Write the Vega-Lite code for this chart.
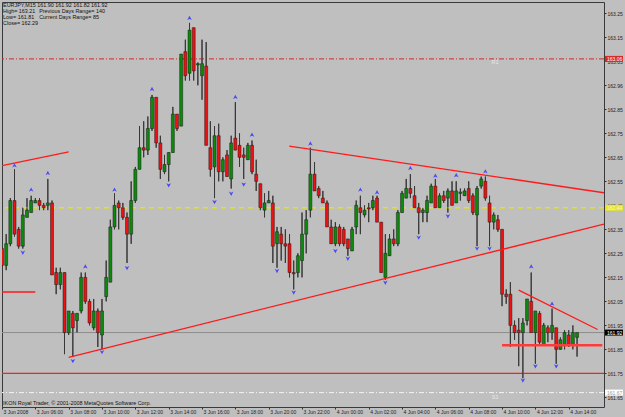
{
"$schema":"https://vega.github.io/schema/vega-lite/v6.json",
"width":602,"height":405,
"autosize":{"type":"none"},
"padding":{"left":2,"top":2,"right":21,"bottom":10},
"background":"#bfbfbf",
"config":{"view":{"stroke":"#3a3a3a","strokeWidth":1},"font":"Liberation Sans","axis":{"title":null,"grid":false,"domain":false}},
"resolve":{"axis":{"x":"independent","y":"independent"}},
"datasets":{
"bars":[
{"t":"2008-06-03T04:00Z","o":162.27,"h":162.28,"l":162.19,"c":162.20},
{"t":"2008-06-03T04:15Z","o":162.20,"h":162.33,"l":162.18,"c":162.29},
{"t":"2008-06-03T04:30Z","o":162.29,"h":162.48,"l":162.28,"c":162.47},
{"t":"2008-06-03T04:45Z","o":162.47,"h":162.60,"l":162.32,"c":162.33},
{"t":"2008-06-03T05:00Z","o":162.35,"h":162.36,"l":162.27,"c":162.28},
{"t":"2008-06-03T05:15Z","o":162.28,"h":162.44,"l":162.27,"c":162.41},
{"t":"2008-06-03T05:30Z","o":162.40,"h":162.48,"l":162.40,"c":162.43},
{"t":"2008-06-03T05:45Z","o":162.42,"h":162.49,"l":162.42,"c":162.47},
{"t":"2008-06-03T06:00Z","o":162.46,"h":162.48,"l":162.46,"c":162.47},
{"t":"2008-06-03T06:15Z","o":162.47,"h":162.48,"l":162.43,"c":162.45},
{"t":"2008-06-03T06:30Z","o":162.45,"h":162.46,"l":162.43,"c":162.44},
{"t":"2008-06-03T06:45Z","o":162.45,"h":162.56,"l":162.43,"c":162.46},
{"t":"2008-06-03T07:00Z","o":162.46,"h":162.47,"l":162.16,"c":162.16},
{"t":"2008-06-03T07:15Z","o":162.17,"h":162.19,"l":162.08,"c":162.12},
{"t":"2008-06-03T07:30Z","o":162.12,"h":162.19,"l":162.10,"c":162.17},
{"t":"2008-06-03T07:45Z","o":162.17,"h":162.17,"l":161.83,"c":161.92},
{"t":"2008-06-03T08:00Z","o":161.92,"h":162.01,"l":161.91,"c":162.01},
{"t":"2008-06-03T08:15Z","o":162.00,"h":162.01,"l":161.82,"c":161.94},
{"t":"2008-06-03T08:30Z","o":161.97,"h":162.00,"l":161.92,"c":162.00},
{"t":"2008-06-03T08:45Z","o":162.01,"h":162.17,"l":162.00,"c":162.15},
{"t":"2008-06-03T09:00Z","o":162.15,"h":162.17,"l":162.04,"c":162.05},
{"t":"2008-06-03T09:15Z","o":162.05,"h":162.06,"l":161.95,"c":161.96},
{"t":"2008-06-03T09:30Z","o":161.94,"h":162.06,"l":161.93,"c":162.01},
{"t":"2008-06-03T09:45Z","o":162.01,"h":162.02,"l":161.86,"c":161.92},
{"t":"2008-06-03T10:00Z","o":161.91,"h":162.06,"l":161.85,"c":162.01},
{"t":"2008-06-03T10:15Z","o":162.07,"h":162.22,"l":162.05,"c":162.15},
{"t":"2008-06-03T10:30Z","o":162.13,"h":162.39,"l":162.13,"c":162.36},
{"t":"2008-06-03T10:45Z","o":162.36,"h":162.50,"l":162.35,"c":162.45},
{"t":"2008-06-03T11:00Z","o":162.46,"h":162.47,"l":162.35,"c":162.44},
{"t":"2008-06-03T11:15Z","o":162.44,"h":162.46,"l":162.39,"c":162.40},
{"t":"2008-06-03T11:30Z","o":162.40,"h":162.42,"l":162.21,"c":162.33},
{"t":"2008-06-03T11:45Z","o":162.33,"h":162.55,"l":162.29,"c":162.47},
{"t":"2008-06-03T12:00Z","o":162.47,"h":162.61,"l":162.46,"c":162.60},
{"t":"2008-06-03T12:15Z","o":162.60,"h":162.78,"l":162.60,"c":162.69},
{"t":"2008-06-03T12:30Z","o":162.69,"h":162.80,"l":162.65,"c":162.68},
{"t":"2008-06-03T12:45Z","o":162.68,"h":162.82,"l":162.66,"c":162.77},
{"t":"2008-06-03T13:00Z","o":162.77,"h":162.91,"l":162.76,"c":162.90},
{"t":"2008-06-03T13:15Z","o":162.90,"h":162.90,"l":162.69,"c":162.71},
{"t":"2008-06-03T13:30Z","o":162.71,"h":162.74,"l":162.56,"c":162.60},
{"t":"2008-06-03T13:45Z","o":162.59,"h":162.66,"l":162.58,"c":162.62},
{"t":"2008-06-03T14:00Z","o":162.62,"h":162.67,"l":162.55,"c":162.67},
{"t":"2008-06-03T14:15Z","o":162.67,"h":162.86,"l":162.67,"c":162.83},
{"t":"2008-06-03T14:30Z","o":162.83,"h":162.83,"l":162.76,"c":162.77},
{"t":"2008-06-03T14:45Z","o":162.78,"h":163.08,"l":162.78,"c":163.08},
{"t":"2008-06-03T15:00Z","o":163.09,"h":163.14,"l":162.97,"c":162.99},
{"t":"2008-06-03T15:15Z","o":163.00,"h":163.21,"l":162.97,"c":163.18},
{"t":"2008-06-03T15:30Z","o":163.19,"h":163.19,"l":162.97,"c":163.01},
{"t":"2008-06-03T15:45Z","o":163.035,"h":163.045,"l":162.95,"c":163.04},
{"t":"2008-06-03T16:00Z","o":162.99,"h":163.14,"l":162.89,"c":163.04},
{"t":"2008-06-03T16:15Z","o":163.03,"h":163.13,"l":162.70,"c":162.70},
{"t":"2008-06-03T16:30Z","o":162.69,"h":162.80,"l":162.57,"c":162.60},
{"t":"2008-06-03T16:45Z","o":162.61,"h":162.78,"l":162.48,"c":162.74},
{"t":"2008-06-03T17:00Z","o":162.74,"h":162.79,"l":162.55,"c":162.59},
{"t":"2008-06-03T17:15Z","o":162.59,"h":162.65,"l":162.55,"c":162.64},
{"t":"2008-06-03T17:30Z","o":162.66,"h":162.68,"l":162.57,"c":162.57},
{"t":"2008-06-03T17:45Z","o":162.56,"h":162.74,"l":162.52,"c":162.71},
{"t":"2008-06-03T18:00Z","o":162.73,"h":162.88,"l":162.68,"c":162.68},
{"t":"2008-06-03T18:15Z","o":162.70,"h":162.75,"l":162.61,"c":162.65},
{"t":"2008-06-03T18:30Z","o":162.66,"h":162.69,"l":162.56,"c":162.65},
{"t":"2008-06-03T18:45Z","o":162.64,"h":162.71,"l":162.64,"c":162.70},
{"t":"2008-06-03T19:00Z","o":162.70,"h":162.72,"l":162.58,"c":162.59},
{"t":"2008-06-03T19:15Z","o":162.58,"h":162.64,"l":162.51,"c":162.55},
{"t":"2008-06-03T19:30Z","o":162.54,"h":162.54,"l":162.43,"c":162.44},
{"t":"2008-06-03T19:45Z","o":162.43,"h":162.50,"l":162.40,"c":162.46},
{"t":"2008-06-03T20:00Z","o":162.46,"h":162.51,"l":162.46,"c":162.47},
{"t":"2008-06-03T20:15Z","o":162.46,"h":162.49,"l":162.21,"c":162.28},
{"t":"2008-06-03T20:30Z","o":162.29,"h":162.36,"l":162.19,"c":162.34},
{"t":"2008-06-03T20:45Z","o":162.33,"h":162.36,"l":162.22,"c":162.29},
{"t":"2008-06-03T21:00Z","o":162.29,"h":162.35,"l":162.21,"c":162.28},
{"t":"2008-06-03T21:15Z","o":162.29,"h":162.33,"l":162.15,"c":162.17},
{"t":"2008-06-03T21:30Z","o":162.17,"h":162.22,"l":162.10,"c":162.165},
{"t":"2008-06-03T21:45Z","o":162.17,"h":162.25,"l":162.15,"c":162.24},
{"t":"2008-06-03T22:00Z","o":162.22,"h":162.42,"l":162.15,"c":162.33},
{"t":"2008-06-03T22:15Z","o":162.33,"h":162.43,"l":162.25,"c":162.39},
{"t":"2008-06-03T22:30Z","o":162.43,"h":162.69,"l":162.40,"c":162.58},
{"t":"2008-06-03T22:45Z","o":162.58,"h":162.63,"l":162.51,"c":162.51},
{"t":"2008-06-03T23:00Z","o":162.52,"h":162.53,"l":162.48,"c":162.49},
{"t":"2008-06-03T23:15Z","o":162.48,"h":162.51,"l":162.46,"c":162.46},
{"t":"2008-06-03T23:30Z","o":162.46,"h":162.47,"l":162.36,"c":162.36},
{"t":"2008-06-03T23:45Z","o":162.36,"h":162.39,"l":162.29,"c":162.29},
{"t":"2008-06-04T00:00Z","o":162.29,"h":162.38,"l":162.28,"c":162.36},
{"t":"2008-06-04T00:15Z","o":162.36,"h":162.37,"l":162.28,"c":162.29},
{"t":"2008-06-04T00:30Z","o":162.35,"h":162.36,"l":162.28,"c":162.29},
{"t":"2008-06-04T00:45Z","o":162.31,"h":162.31,"l":162.24,"c":162.27},
{"t":"2008-06-04T01:00Z","o":162.26,"h":162.36,"l":162.26,"c":162.35},
{"t":"2008-06-04T01:15Z","o":162.36,"h":162.47,"l":162.33,"c":162.45},
{"t":"2008-06-04T01:30Z","o":162.44,"h":162.49,"l":162.33,"c":162.42},
{"t":"2008-06-04T01:45Z","o":162.41,"h":162.45,"l":162.40,"c":162.43},
{"t":"2008-06-04T02:00Z","o":162.44,"h":162.46,"l":162.38,"c":162.435},
{"t":"2008-06-04T02:15Z","o":162.44,"h":162.49,"l":162.43,"c":162.47},
{"t":"2008-06-04T02:30Z","o":162.48,"h":162.49,"l":162.38,"c":162.38},
{"t":"2008-06-04T02:45Z","o":162.38,"h":162.38,"l":162.17,"c":162.17},
{"t":"2008-06-04T03:00Z","o":162.15,"h":162.33,"l":162.14,"c":162.25},
{"t":"2008-06-04T03:15Z","o":162.24,"h":162.33,"l":162.24,"c":162.31},
{"t":"2008-06-04T03:30Z","o":162.31,"h":162.35,"l":162.28,"c":162.29},
{"t":"2008-06-04T03:45Z","o":162.29,"h":162.43,"l":162.28,"c":162.42},
{"t":"2008-06-04T04:00Z","o":162.42,"h":162.51,"l":162.42,"c":162.50},
{"t":"2008-06-04T04:15Z","o":162.48,"h":162.56,"l":162.48,"c":162.52},
{"t":"2008-06-04T04:30Z","o":162.52,"h":162.58,"l":162.48,"c":162.50},
{"t":"2008-06-04T04:45Z","o":162.49,"h":162.53,"l":162.44,"c":162.44},
{"t":"2008-06-04T05:00Z","o":162.44,"h":162.46,"l":162.33,"c":162.42},
{"t":"2008-06-04T05:15Z","o":162.42,"h":162.44,"l":162.38,"c":162.43},
{"t":"2008-06-04T05:30Z","o":162.42,"h":162.49,"l":162.38,"c":162.47},
{"t":"2008-06-04T05:45Z","o":162.46,"h":162.54,"l":162.46,"c":162.53},
{"t":"2008-06-04T06:00Z","o":162.53,"h":162.56,"l":162.44,"c":162.44},
{"t":"2008-06-04T06:15Z","o":162.44,"h":162.50,"l":162.44,"c":162.49},
{"t":"2008-06-04T06:30Z","o":162.49,"h":162.51,"l":162.46,"c":162.47},
{"t":"2008-06-04T06:45Z","o":162.48,"h":162.52,"l":162.42,"c":162.51},
{"t":"2008-06-04T07:00Z","o":162.51,"h":162.55,"l":162.45,"c":162.45},
{"t":"2008-06-04T07:15Z","o":162.46,"h":162.55,"l":162.46,"c":162.51},
{"t":"2008-06-04T07:30Z","o":162.50,"h":162.52,"l":162.47,"c":162.505},
{"t":"2008-06-04T07:45Z","o":162.49,"h":162.52,"l":162.49,"c":162.51},
{"t":"2008-06-04T08:00Z","o":162.52,"h":162.55,"l":162.46,"c":162.47},
{"t":"2008-06-04T08:15Z","o":162.49,"h":162.50,"l":162.41,"c":162.42},
{"t":"2008-06-04T08:30Z","o":162.41,"h":162.53,"l":162.28,"c":162.52},
{"t":"2008-06-04T08:45Z","o":162.53,"h":162.57,"l":162.52,"c":162.56},
{"t":"2008-06-04T09:00Z","o":162.55,"h":162.57,"l":162.47,"c":162.48},
{"t":"2008-06-04T09:15Z","o":162.46,"h":162.49,"l":162.28,"c":162.38},
{"t":"2008-06-04T09:30Z","o":162.38,"h":162.42,"l":162.35,"c":162.41},
{"t":"2008-06-04T09:45Z","o":162.39,"h":162.41,"l":162.34,"c":162.35},
{"t":"2008-06-04T10:00Z","o":162.35,"h":162.35,"l":162.03,"c":162.08},
{"t":"2008-06-04T10:15Z","o":162.08,"h":162.10,"l":162.04,"c":162.07},
{"t":"2008-06-04T10:30Z","o":162.08,"h":162.13,"l":161.86,"c":161.95},
{"t":"2008-06-04T10:45Z","o":161.95,"h":161.97,"l":161.89,"c":161.92},
{"t":"2008-06-04T11:00Z","o":161.93,"h":161.98,"l":161.78,"c":161.92},
{"t":"2008-06-04T11:15Z","o":161.92,"h":161.98,"l":161.73,"c":161.96},
{"t":"2008-06-04T11:30Z","o":161.97,"h":162.06,"l":161.95,"c":162.06},
{"t":"2008-06-04T11:45Z","o":162.05,"h":162.17,"l":161.92,"c":161.92},
{"t":"2008-06-04T12:00Z","o":161.92,"h":162.01,"l":161.79,"c":162.01},
{"t":"2008-06-04T12:15Z","o":162.00,"h":162.01,"l":161.87,"c":161.88},
{"t":"2008-06-04T12:30Z","o":161.87,"h":161.96,"l":161.87,"c":161.95},
{"t":"2008-06-04T12:45Z","o":161.94,"h":161.95,"l":161.88,"c":161.92},
{"t":"2008-06-04T13:00Z","o":161.92,"h":162.02,"l":161.89,"c":161.95},
{"t":"2008-06-04T13:15Z","o":161.94,"h":161.94,"l":161.79,"c":161.85},
{"t":"2008-06-04T13:30Z","o":161.85,"h":161.90,"l":161.85,"c":161.89},
{"t":"2008-06-04T13:45Z","o":161.87,"h":161.93,"l":161.85,"c":161.92},
{"t":"2008-06-04T14:00Z","o":161.91,"h":161.93,"l":161.86,"c":161.87},
{"t":"2008-06-04T14:15Z","o":161.87,"h":161.95,"l":161.85,"c":161.92},
{"t":"2008-06-04T14:30Z","o":161.90,"h":161.92,"l":161.82,"c":161.92}
],
"fr":[
{"t":"2008-06-03T04:45Z","v":162.615,"d":"up"},
{"t":"2008-06-03T05:45Z","v":162.514,"d":"up"},
{"t":"2008-06-03T06:45Z","v":162.583,"d":"up"},
{"t":"2008-06-03T09:00Z","v":162.194,"d":"up"},
{"t":"2008-06-03T10:45Z","v":162.514,"d":"up"},
{"t":"2008-06-03T13:00Z","v":162.933,"d":"up"},
{"t":"2008-06-03T15:15Z","v":163.229,"d":"up"},
{"t":"2008-06-03T18:00Z","v":162.900,"d":"up"},
{"t":"2008-06-03T19:00Z","v":162.743,"d":"up"},
{"t":"2008-06-03T22:30Z","v":162.706,"d":"up"},
{"t":"2008-06-04T01:30Z","v":162.514,"d":"up"},
{"t":"2008-06-04T02:30Z","v":162.503,"d":"up"},
{"t":"2008-06-04T04:30Z","v":162.604,"d":"up"},
{"t":"2008-06-04T06:00Z","v":162.572,"d":"up"},
{"t":"2008-06-04T07:15Z","v":162.574,"d":"up"},
{"t":"2008-06-04T09:00Z","v":162.590,"d":"up"},
{"t":"2008-06-04T11:45Z","v":162.194,"d":"up"},
{"t":"2008-06-04T13:00Z","v":162.039,"d":"up"},
{"t":"2008-06-03T05:15Z","v":162.254,"d":"dn"},
{"t":"2008-06-03T08:15Z","v":161.803,"d":"dn"},
{"t":"2008-06-03T10:00Z","v":161.840,"d":"dn"},
{"t":"2008-06-03T11:30Z","v":162.190,"d":"dn"},
{"t":"2008-06-03T14:00Z","v":162.535,"d":"dn"},
{"t":"2008-06-03T16:45Z","v":162.465,"d":"dn"},
{"t":"2008-06-03T17:45Z","v":162.500,"d":"dn"},
{"t":"2008-06-03T18:30Z","v":162.538,"d":"dn"},
{"t":"2008-06-03T20:30Z","v":162.178,"d":"dn"},
{"t":"2008-06-03T21:30Z","v":162.088,"d":"dn"},
{"t":"2008-06-04T00:00Z","v":162.261,"d":"dn"},
{"t":"2008-06-04T00:45Z","v":162.229,"d":"dn"},
{"t":"2008-06-04T03:00Z","v":162.129,"d":"dn"},
{"t":"2008-06-04T05:00Z","v":162.317,"d":"dn"},
{"t":"2008-06-04T06:45Z","v":162.406,"d":"dn"},
{"t":"2008-06-04T08:30Z","v":162.271,"d":"dn"},
{"t":"2008-06-04T09:15Z","v":162.271,"d":"dn"},
{"t":"2008-06-04T11:15Z","v":161.722,"d":"dn"},
{"t":"2008-06-04T12:00Z","v":161.781,"d":"dn"},
{"t":"2008-06-04T13:15Z","v":161.781,"d":"dn"}
],
"tl":[
{"id":"a","t1":"2008-06-03T04:00Z","v1":162.615,"t2":"2008-06-03T08:00Z","v2":162.673},
{"id":"b","t1":"2008-06-03T08:00Z","v1":161.817,"t2":"2008-06-04T16:07Z","v2":162.372},
{"id":"c","t1":"2008-06-03T21:14Z","v1":162.697,"t2":"2008-06-04T16:07Z","v2":162.5025},
{"id":"d","t1":"2008-06-04T11:00Z","v1":162.097,"t2":"2008-06-04T15:44Z","v2":161.933},
{"id":"e","t1":"2008-06-03T04:00Z","v1":162.089,"t2":"2008-06-03T06:00Z","v2":162.089},
{"id":"h","t1":"2008-06-04T10:00Z","v1":161.867,"t2":"2008-06-04T16:01Z","v2":161.867}
],
"lv":[
{"k":"R1","v":163.06},
{"k":"PP","v":162.44},
{"k":"bid","v":161.92},
{"k":"S1","v":161.67},
{"k":"sup","v":161.75}
],
"hd":[
{"t":"2008-06-03T04:04Z","v":163.286,"s":"EURJPY,M15 161.90 161.92 161.82 161.92"},
{"t":"2008-06-03T04:04Z","v":163.261,"s":"High= 163.21"},
{"t":"2008-06-03T06:14Z","v":163.261,"s":"Previous Days Range= 140"},
{"t":"2008-06-03T04:04Z","v":163.236,"s":"Low= 161.81"},
{"t":"2008-06-03T06:14Z","v":163.236,"s":"Current Days Range= 85"},
{"t":"2008-06-03T04:04Z","v":163.211,"s":"Close= 162.29"},
{"t":"2008-06-03T04:04Z","v":161.626,"s":"IKON Royal Trader, © 2001-2008 MetaQuotes Software Corp."}
],
"pv":[
{"t":"2008-06-04T09:35Z","v":163.045,"s":"R1"},
{"t":"2008-06-04T09:35Z","v":161.652,"s":"S1"}
]
},
"layer":[
{"data":{"name":"bars"},
 "mark":{"type":"rule","color":"#383838","strokeWidth":1,"clip":true},
 "encoding":{
  "x":{"field":"t","type":"temporal",
   "scale":{"type":"utc","padding":0,"domain":[{"year":2008,"month":6,"date":3,"hours":4,"minutes":0,"utc":true},{"year":2008,"month":6,"date":4,"hours":16,"minutes":7,"utc":true}]},
   "axis":{"orient":"bottom","title":null,"grid":false,"domain":false,
    "values":[
     {"year":2008,"month":6,"date":3,"hours":4,"utc":true},
     {"year":2008,"month":6,"date":3,"hours":6,"utc":true},
     {"year":2008,"month":6,"date":3,"hours":8,"utc":true},
     {"year":2008,"month":6,"date":3,"hours":10,"utc":true},
     {"year":2008,"month":6,"date":3,"hours":12,"utc":true},
     {"year":2008,"month":6,"date":3,"hours":14,"utc":true},
     {"year":2008,"month":6,"date":3,"hours":16,"utc":true},
     {"year":2008,"month":6,"date":3,"hours":18,"utc":true},
     {"year":2008,"month":6,"date":3,"hours":20,"utc":true},
     {"year":2008,"month":6,"date":3,"hours":22,"utc":true},
     {"year":2008,"month":6,"date":4,"hours":0,"utc":true},
     {"year":2008,"month":6,"date":4,"hours":2,"utc":true},
     {"year":2008,"month":6,"date":4,"hours":4,"utc":true},
     {"year":2008,"month":6,"date":4,"hours":6,"utc":true},
     {"year":2008,"month":6,"date":4,"hours":8,"utc":true},
     {"year":2008,"month":6,"date":4,"hours":10,"utc":true},
     {"year":2008,"month":6,"date":4,"hours":12,"utc":true},
     {"year":2008,"month":6,"date":4,"hours":14,"utc":true}],
    "labelExpr":"(utcdate(datum.value)==3 && utchours(datum.value)==4) ? '3 Jun 2008' : utcFormat(datum.value, '%-d %b %H:%M')",
    "labelAlign":"left","labelOffset":1,"labelFont":"Liberation Sans","labelFontSize":5,"labelColor":"#222222",
    "tickSize":2,"tickColor":"#333333","labelPadding":0,"labelOverlap":false,"labelBound":false,"labelFlush":false}},
  "y":{"field":"l","type":"quantitative","scale":{"domain":[161.61,163.297],"nice":false,"zero":false,"padding":0},
   "axis":{"orient":"right","title":null,"grid":false,"domain":false,
    "values":[163.25,163.15,163.05,162.95,162.85,162.75,162.65,162.55,162.45,162.35,162.25,162.15,162.05,161.95,161.85,161.75,161.65],
    "labelExpr":"datum.value==162.95 ? '162.96' : format(datum.value, '.2f')",
    "labelAlign":"left","labelBaseline":"middle","labelFont":"Liberation Sans","labelFontSize":5,"labelColor":"#222222",
    "tickSize":2,"tickColor":"#333333","labelPadding":1,"labelOverlap":false,"labelBound":false,"labelFlush":false}},
  "y2":{"field":"h"}}},
{"data":{"name":"lv"},"transform":[{"filter":"datum.k=='bid'"}],
 "mark":{"type":"rule","color":"#8c8c8c","strokeWidth":1},
 "encoding":{"y":{"field":"v","type":"quantitative","axis":null}}},
{"data":{"name":"lv"},"transform":[{"filter":"datum.k=='PP'"}],
 "mark":{"type":"rule","color":"#e6e600","strokeWidth":1.3,"strokeDash":[5,4]},
 "encoding":{"y":{"field":"v","type":"quantitative","axis":null}}},
{"data":{"name":"lv"},"transform":[{"filter":"datum.k=='R1'"}],
 "mark":{"type":"rule","color":"#cc2a2a","strokeWidth":1,"strokeDash":[5,2,1,2]},
 "encoding":{"y":{"field":"v","type":"quantitative","axis":null}}},
{"data":{"name":"lv"},"transform":[{"filter":"datum.k=='S1'"}],
 "mark":{"type":"rule","color":"#f4f4f4","strokeWidth":1,"strokeDash":[5,2,1,2]},
 "encoding":{"y":{"field":"v","type":"quantitative","axis":null}}},
{"data":{"name":"lv"},"transform":[{"filter":"datum.k=='sup'"}],
 "mark":{"type":"rule","color":"#ff1e1e","strokeWidth":1.3},
 "encoding":{"y":{"field":"v","type":"quantitative","axis":null}}},
{"data":{"name":"bars"},
 "mark":{"type":"rule","color":"#383838","strokeWidth":1,"clip":true},
 "encoding":{
  "x":{"field":"t","type":"temporal","axis":null},
  "y":{"field":"l","type":"quantitative","axis":null},
  "y2":{"field":"h"}}},
{"data":{"name":"bars"},
 "mark":{"type":"bar","size":3,"stroke":"#1a1a1a","strokeWidth":0.5,"clip":true},
 "encoding":{
  "x":{"field":"t","type":"temporal","axis":null},
  "y":{"field":"o","type":"quantitative","axis":null},
  "y2":{"field":"c"},
  "fill":{"condition":{"test":"datum.c >= datum.o","value":"#0c8a0c"},"value":"#ee1111"}}},
{"data":{"name":"tl"},"transform":[{"filter":"datum.id!='h'"}],
 "mark":{"type":"rule","color":"#ff1a1a","strokeWidth":1.3,"clip":true},
 "encoding":{
  "x":{"field":"t1","type":"temporal","axis":null},
  "x2":{"field":"t2"},
  "y":{"field":"v1","type":"quantitative","axis":null},
  "y2":{"field":"v2"}}},
{"data":{"name":"tl"},"transform":[{"filter":"datum.id=='h'"}],
 "mark":{"type":"rule","color":"#ff3a3a","strokeWidth":2.5,"clip":true},
 "encoding":{
  "x":{"field":"t1","type":"temporal","axis":null},
  "x2":{"field":"t2"},
  "y":{"field":"v1","type":"quantitative","axis":null},
  "y2":{"field":"v2"}}},
{"data":{"name":"fr"},"transform":[{"filter":"datum.d=='up'"}],
 "mark":{"type":"point","filled":true,"shape":"M0,-1L0.9,0.7L0,0.25L-0.9,0.7Z","size":26,"color":"#4a4af4","opacity":1},
 "encoding":{
  "x":{"field":"t","type":"temporal","axis":null},
  "y":{"field":"v","type":"quantitative","axis":null}}},
{"data":{"name":"fr"},"transform":[{"filter":"datum.d=='dn'"}],
 "mark":{"type":"point","filled":true,"shape":"M0,1L0.9,-0.7L0,-0.25L-0.9,-0.7Z","size":26,"color":"#4a4af4","opacity":1},
 "encoding":{
  "x":{"field":"t","type":"temporal","axis":null},
  "y":{"field":"v","type":"quantitative","axis":null}}},
{"data":{"name":"hd"},
 "mark":{"type":"text","align":"left","baseline":"middle","font":"Liberation Sans","fontSize":5.4,"color":"#111111"},
 "encoding":{
  "x":{"field":"t","type":"temporal","axis":null},
  "y":{"field":"v","type":"quantitative","axis":null},
  "text":{"field":"s"}}},
{"data":{"name":"pv"},
 "mark":{"type":"text","align":"center","baseline":"middle","font":"Liberation Sans","fontSize":5.5,"color":"#e8e8e8"},
 "encoding":{
  "x":{"field":"t","type":"temporal","axis":null},
  "y":{"field":"v","type":"quantitative","axis":null},
  "text":{"field":"s"}}},
{"data":{"name":"lv"},"transform":[{"filter":"datum.k!='sup'"}],
 "mark":{"type":"point","filled":true,"shape":"M0.33,-1L6.33,-1L6.33,1L0.33,1Z","size":36,"opacity":1,"clip":false},
 "encoding":{
  "x":{"value":"width"},
  "y":{"field":"v","type":"quantitative","axis":null},
  "fill":{"field":"k","type":"nominal","scale":{"domain":["R1","PP","bid","S1"],"range":["#d42a2a","#e6e62a","#000000","#ffffff"]},"legend":null}}},
{"data":{"name":"lv"},"transform":[{"filter":"datum.k!='sup'"}],
 "mark":{"type":"text","align":"left","baseline":"middle","dx":3,"font":"Liberation Sans","fontSize":5,"clip":false},
 "encoding":{
  "x":{"value":"width"},
  "y":{"field":"v","type":"quantitative","axis":null},
  "text":{"field":"v","type":"quantitative","format":".2f"},
  "color":{"condition":[{"test":"datum.k=='S1'","value":"#9a9a9a"},{"test":"datum.k=='PP'","value":"#f8f8c8"}],"value":"#ffffff"}}}
]
}
